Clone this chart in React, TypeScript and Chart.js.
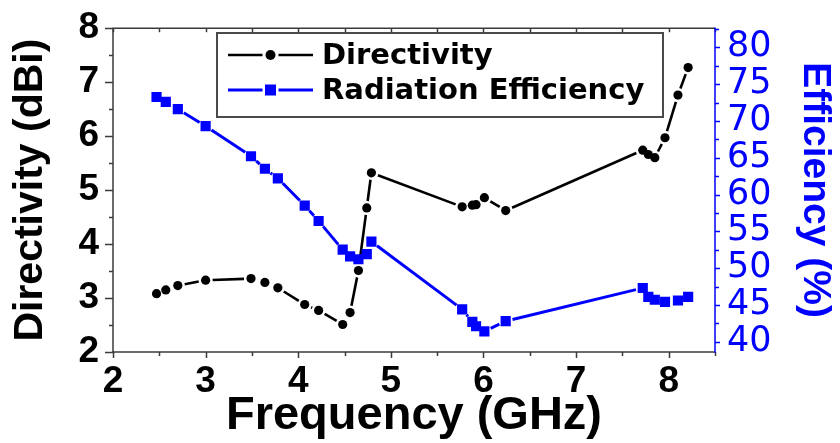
import { useEffect, useRef } from 'react';
import { Chart, registerables } from 'chart.js';

Chart.register(...registerables);

// Measured antenna performance versus frequency
const frequencyGHz = [
  2.47, 2.57, 2.7, 3.0, 3.49, 3.64, 3.78, 4.07, 4.22, 4.48, 4.56, 4.65, 4.74,
  4.79, 5.77, 5.88, 5.92, 6.01, 6.24, 7.72, 7.78, 7.85, 7.96, 8.1, 8.21,
];
const directivityDBi = [
  3.08, 3.15, 3.23, 3.33, 3.36, 3.29, 3.19, 2.88, 2.77, 2.51, 2.73, 3.51, 4.67,
  5.32, 4.69, 4.72, 4.73, 4.86, 4.62, 5.74, 5.66, 5.6, 5.97, 6.76, 7.27,
];
const efficiencyPct = [
  73.25, 72.6, 71.6, 69.3, 65.2, 63.5, 62.2, 58.5, 56.4, 52.5, 51.6, 51.2, 51.9,
  53.6, 44.4, 42.7, 42.1, 41.4, 42.8, 47.3, 46.1, 45.7, 45.4, 45.6, 46.1,
];

const frequencyTicks = [2, 3, 4, 5, 6, 7, 8];
const directivityTicks = [2, 3, 4, 5, 6, 7, 8];
const efficiencyTicks = [40, 45, 50, 55, 60, 65, 70, 75, 80];

const seriesLabels = ['Directivity', 'Radiation Efficiency'];

const BLUE = '#0000ff';
const BLACK = '#000000';
const FRAME = '#3a3a3a';
const LINE_GAP = 7;

// Origin-style connecting lines: each segment stops short of the symbols.
const gappedLines = {
  id: 'gappedLines',
  beforeDatasetsDraw(chart: any) {
    const ctx = chart.ctx;
    chart.data.datasets.forEach((ds: any, i: number) => {
      const pts = chart.getDatasetMeta(i).data;
      ctx.save();
      ctx.strokeStyle = ds.pointBackgroundColor;
      ctx.lineWidth = i === 0 ? 2.6 : 3;
      for (let k = 0; k < pts.length - 1; k++) {
        const a = pts[k];
        const b = pts[k + 1];
        const dx = b.x - a.x;
        const dy = b.y - a.y;
        const len = Math.hypot(dx, dy);
        if (len <= 2 * LINE_GAP + 1) continue;
        const ux = dx / len;
        const uy = dy / len;
        ctx.beginPath();
        ctx.moveTo(a.x + ux * LINE_GAP, a.y + uy * LINE_GAP);
        ctx.lineTo(b.x - ux * LINE_GAP, b.y - uy * LINE_GAP);
        ctx.stroke();
      }
      ctx.restore();
    });
  },
};

// Axis frame with major/minor tick marks
const frameTicks = {
  id: 'frameTicks',
  afterDraw(chart: any) {
    const { ctx, chartArea } = chart;
    const { left, right, top, bottom } = chartArea;
    const sx = chart.scales.x;
    const sy = chart.scales.y;
    const sy1 = chart.scales.y1;
    ctx.save();
    ctx.lineCap = 'butt';
    ctx.lineWidth = 1.5;
    ctx.strokeStyle = FRAME;
    const seg = (x1: number, y1: number, x2: number, y2: number) => {
      ctx.beginPath();
      ctx.moveTo(x1, y1);
      ctx.lineTo(x2, y2);
      ctx.stroke();
    };
    seg(left - 0.75, top, right, top);
    seg(left, top, left, bottom + 0.75);
    seg(left - 0.75, bottom, right, bottom);
    for (let v = sx.min; v <= sx.max + 1e-9; v += 0.5) {
      const px = Math.round(sx.getPixelForValue(v)) + 0.5;
      const major = Math.abs(v - Math.round(v)) < 1e-9;
      seg(px, bottom, px, bottom + (major ? 6 : 4));
      seg(px, top, px, top + 4);
    }
    for (let v = sy.min; v <= sy.max + 1e-9; v += 0.5) {
      const py = Math.round(sy.getPixelForValue(v)) + 0.5;
      const major = Math.abs(v - Math.round(v)) < 1e-9;
      seg(left, py, left - (major ? 8 : 4), py);
    }
    ctx.strokeStyle = BLUE;
    seg(right, top - 0.75, right, bottom + 0.75);
    for (let v = 40; v <= sy1.max + 1e-9; v += 2.5) {
      const py = Math.round(sy1.getPixelForValue(v)) + 0.5;
      const major = v % 5 === 0;
      seg(right, py, right + (major ? 5 : 4), py);
    }
    ctx.restore();
  },
};

// Boxed legend inside the plot
const boxedLegend = {
  id: 'boxedLegend',
  afterDraw(chart: any) {
    const ctx = chart.ctx;
    const boxL = 217;
    const boxT = 33;
    const boxR = 663;
    const boxB = 117;
    const rows = [55, 90];
    const colors = [BLACK, BLUE];
    ctx.save();
    ctx.fillStyle = '#ffffff';
    ctx.fillRect(boxL, boxT, boxR - boxL, boxB - boxT);
    ctx.strokeStyle = '#4a4a4a';
    ctx.lineWidth = 2;
    ctx.strokeRect(boxL, boxT, boxR - boxL, boxB - boxT);
    rows.forEach((ry, i) => {
      const c = colors[i];
      const mx = 270.5;
      ctx.strokeStyle = c;
      ctx.fillStyle = c;
      ctx.lineWidth = i === 0 ? 2.6 : 3;
      ctx.beginPath();
      ctx.moveTo(228, ry);
      ctx.lineTo(mx - LINE_GAP - 1, ry);
      ctx.moveTo(mx + LINE_GAP + 1, ry);
      ctx.lineTo(313, ry);
      ctx.stroke();
      if (i === 0) {
        ctx.beginPath();
        ctx.arc(mx, ry, 5, 0, Math.PI * 2);
        ctx.fill();
      } else {
        ctx.fillRect(mx - 5.5, ry - 5.5, 11, 11);
      }
      ctx.fillStyle = BLACK;
      ctx.font = 'bold 29px "DejaVu Sans"';
      ctx.textBaseline = 'middle';
      ctx.textAlign = 'left';
      ctx.fillText(seriesLabels[i], 322, ry + 1);
    });
    ctx.restore();
  },
};

const tickGrid = {
  display: true,
  drawOnChartArea: false,
  drawTicks: true,
  tickColor: 'rgba(0,0,0,0)',
};

export default function App() {
  const canvasRef = useRef<HTMLCanvasElement | null>(null);

  useEffect(() => {
    const canvas = canvasRef.current;
    if (!canvas) return;
    const chart = new Chart(canvas, {
      type: 'scatter',
      data: {
        datasets: [
          {
            label: seriesLabels[0],
            data: frequencyGHz.map((f, i) => ({ x: f, y: directivityDBi[i] })),
            yAxisID: 'y',
            showLine: false,
            pointStyle: 'circle',
            pointRadius: 4.6,
            pointBorderWidth: 0,
            pointBackgroundColor: BLACK,
            pointBorderColor: BLACK,
          },
          {
            label: seriesLabels[1],
            data: frequencyGHz.map((f, i) => ({ x: f, y: efficiencyPct[i] })),
            yAxisID: 'y1',
            showLine: false,
            pointStyle: 'rect',
            pointRadius: 7.2,
            pointBorderWidth: 0,
            pointBackgroundColor: BLUE,
            pointBorderColor: BLUE,
          },
        ],
      },
      options: {
        responsive: false,
        animation: false,
        events: [],
        layout: { padding: { top: 24, left: 0, right: 0, bottom: 0 } },
        plugins: {
          legend: { display: false },
          tooltip: { enabled: false },
        },
        scales: {
          x: {
            type: 'linear',
            position: 'bottom',
            min: 2,
            max: 8.5,
            afterBuildTicks: (s: any) => {
              s.ticks = frequencyTicks.map((v) => ({ value: v }));
            },
            afterFit: (s: any) => {
              s.height = 91;
            },
            grid: { ...tickGrid, tickLength: 6 },
            border: { display: false },
            ticks: {
              color: BLACK,
              padding: 2,
              maxRotation: 0,
              autoSkip: false,
              font: { family: '"Liberation Sans", Arial', weight: 'bold', size: 37 },
              callback: (v: any) => String(v),
            },
            title: {
              display: true,
              text: 'Frequency (GHz)',
              color: BLACK,
              font: { family: '"Liberation Sans", Arial', weight: 'bold', size: 47, lineHeight: 1 },
              padding: { top: 0, bottom: 3.5 },
            },
          },
          y: {
            type: 'linear',
            position: 'left',
            min: 2,
            max: 8,
            afterBuildTicks: (s: any) => {
              s.ticks = directivityTicks.map((v) => ({ value: v }));
            },
            afterFit: (s: any) => {
              s.width = 113;
            },
            grid: { ...tickGrid, tickLength: 8 },
            border: { display: false },
            ticks: {
              color: BLACK,
              padding: 6,
              autoSkip: false,
              font: { family: '"Liberation Sans", Arial', weight: 'bold', size: 37 },
              callback: (v: any) => String(v),
            },
            title: {
              display: true,
              text: 'Directivity (dBi)',
              color: BLACK,
              font: { family: '"Liberation Sans", Arial', weight: 'bold', size: 41, lineHeight: 1 },
              padding: { top: 10, bottom: 0 },
            },
          },
          y1: {
            type: 'linear',
            position: 'right',
            min: 38.6,
            max: 82.6,
            afterBuildTicks: (s: any) => {
              s.ticks = efficiencyTicks.map((v) => ({ value: v }));
            },
            afterFit: (s: any) => {
              s.width = 125;
            },
            grid: { ...tickGrid, tickLength: 6 },
            border: { display: false },
            ticks: {
              color: BLUE,
              padding: 6,
              autoSkip: false,
              font: { family: '"DejaVu Sans"', weight: 'normal', size: 35 },
              callback: (v: any) => String(v),
            },
            title: {
              display: true,
              text: 'Efficiency (%)',
              color: BLUE,
              font: { family: '"Liberation Sans", Arial', weight: 'bold', size: 39, lineHeight: 1 },
              padding: { top: 5.5, bottom: 0 },
            },
          },
        },
      },
      plugins: [gappedLines, frameTicks, boxedLegend],
    } as any);
    return () => chart.destroy();
  }, []);

  return (
    <div style={{ position: 'fixed', left: 0, top: 0, width: 840, height: 443, background: '#ffffff' }}>
      <canvas ref={canvasRef} width={840} height={443} style={{ display: 'block' }} />
    </div>
  );
}
